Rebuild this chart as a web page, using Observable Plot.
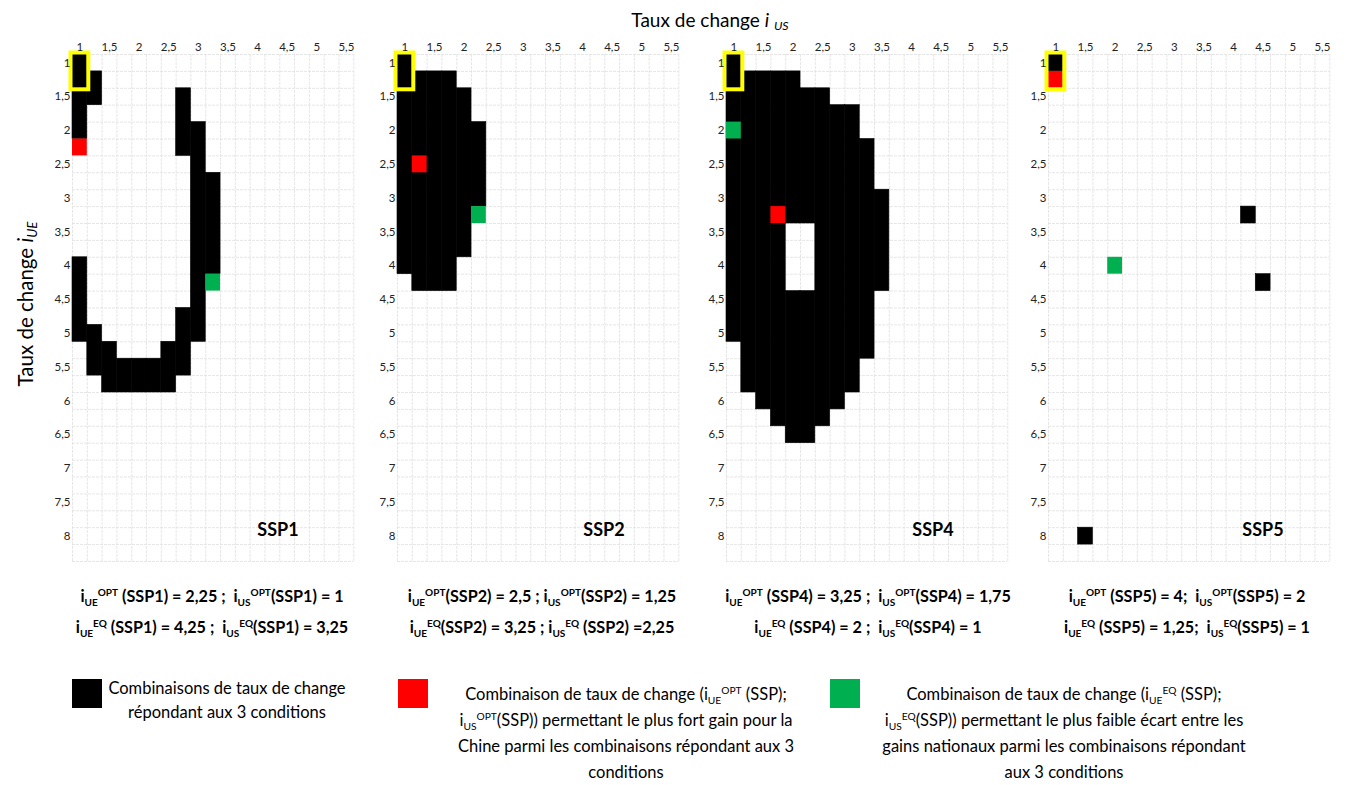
<!DOCTYPE html>
<html><head><meta charset="utf-8">
<script src="https://cdn.jsdelivr.net/npm/d3@7"></script>
<script src="https://cdn.jsdelivr.net/npm/@observablehq/plot@0.6"></script>
<style>
body{margin:0;background:#fff;font-family:Lato,"Open Sans",sans-serif;color:#000;}
#root{position:relative;width:1365px;height:785px;overflow:hidden;background:#fff;}
.abs{position:absolute;white-space:nowrap;}
.ptitle{font-weight:bold;font-size:18px;}
.formula{font-weight:bold;font-size:16.2px;text-align:center;line-height:31px;width:380px;}
sub,sup{line-height:0;}
.formula sub,.legtxt sub{font-size:0.62em;vertical-align:-0.35em;}
.formula sup,.legtxt sup{font-size:0.62em;vertical-align:0.55em;}
.legtxt{font-size:16.5px;text-align:center;line-height:26px;}
.sq{position:absolute;width:30px;height:29px;}
</style></head><body><div id="root"></div>
<script>
// categories (cell centres) of the two exchange-rate axes
const xValues = [1,1.25,1.5,1.75,2,2.25,2.5,2.75,3,3.25,3.5,3.75,4,4.25,4.5,4.75,5,5.25,5.5];
const yValues = [1,1.25,1.5,1.75,2,2.25,2.5,2.75,3,3.25,3.5,3.75,4,4.25,4.5,4.75,5,5.25,5.5,5.75,6,6.25,6.5,6.75,7,7.25,7.5,7.75,8,8.25];
const xTicks = [1,1.5,2,2.5,3,3.5,4,4.5,5,5.5];
const yTicks = [1,1.5,2,2.5,3,3.5,4,4.5,5,5.5,6,6.5,7,7.5,8];
const panelNames = ["SSP1","SSP2","SSP4","SSP5"];

// black combinations: [i_US, i_UE from, i_UE to]
const ssp1Runs = [
  [1,1,2],[1,4,5],
  [1.25,1.25,1.5],[1.25,5,5.5],
  [1.5,5.25,5.75],[1.75,5.5,5.75],[2,5.5,5.75],[2.25,5.5,5.75],[2.5,5.25,5.75],
  [2.75,1.5,2.25],[2.75,4.75,5.5],
  [3,2,5],
  [3.25,2.75,4]
];
const ssp2Runs = [
  [1,1,4],[1.25,1.25,4.25],[1.5,1.25,4.25],[1.75,1.25,4.25],[2,1.5,3.75],[2.25,2,3]
];
const ssp4Runs = [
  [1,1,5],[1.25,1.25,5.75],[1.5,1.25,6],[1.75,1.25,6.25],
  [2,1.25,3.25],[2,4.5,6.5],[2.25,1.5,3.25],[2.25,4.5,6.5],
  [2.5,1.5,6.25],[2.75,1.75,6],[3,1.75,5.75],[3.25,2.25,5.25],[3.5,3,4.25]
];
const ssp5Runs = [
  [1,1,1],[4.25,3.25,3.25],[4.5,4.25,4.25],[1.5,8,8]
];
const runsByPanel = [ssp1Runs, ssp2Runs, ssp4Runs, ssp5Runs];
// red (OPT) and green (EQ) cells: [i_US, i_UE]
const optCells = [[1,2.25],[1.25,2.5],[1.75,3.25],[1,1.25]];
const eqCells  = [[3.25,4.25],[2.25,3.25],[1,2],[2,4]];
// yellow framed block: [i_US, i_UE from, i_UE to]
const highlight = [1,1,1.25];

const formulaLines = [
  ["i<sub>UE</sub><sup>OPT</sup> (SSP1) = 2,25 ;&nbsp; i<sub>US</sub><sup>OPT</sup>(SSP1) = 1",
   "i<sub>UE</sub><sup>EQ</sup> (SSP1) = 4,25 ;&nbsp; i<sub>US</sub><sup>EQ</sup>(SSP1) = 3,25"],
  ["i<sub>UE</sub><sup>OPT</sup>(SSP2) = 2,5 ; i<sub>US</sub><sup>OPT</sup>(SSP2) = 1,25",
   "i<sub>UE</sub><sup>EQ</sup>(SSP2) = 3,25 ; i<sub>US</sub><sup>EQ</sup> (SSP2) =2,25"],
  ["i<sub>UE</sub><sup>OPT</sup> (SSP4) = 3,25 ;&nbsp; i<sub>US</sub><sup>OPT</sup>(SSP4) = 1,75",
   "i<sub>UE</sub><sup>EQ</sup> (SSP4) = 2 ;&nbsp; i<sub>US</sub><sup>EQ</sup>(SSP4) = 1"],
  ["i<sub>UE</sub><sup>OPT</sup> (SSP5) = 4;&nbsp; i<sub>US</sub><sup>OPT</sup>(SSP5) = 2",
   "i<sub>UE</sub><sup>EQ</sup> (SSP5) = 1,25;&nbsp; i<sub>US</sub><sup>EQ</sup>(SSP5) = 1"]
];

const root = document.getElementById("root");
const half = 0.125;
const fmt = d => String(d).replace(".", ",");
const ML = 40, MR = 4, MT = 24, MB = 4;
const gridW = 281.3, gridH = 507;
const W = ML + gridW + MR, H = MT + gridH + MB;
const gridLefts = [71.7, 396.7, 725.7, 1047.7];
const gridTop = 54;
const xEdges = xValues.map(v => v - half).concat([xValues[xValues.length-1] + half]);
const yEdges = yValues.map(v => v - half).concat([yValues[yValues.length-1] + half]);

function add(html, cls, style){
  const d = document.createElement("div");
  d.className = "abs " + (cls||"");
  d.innerHTML = html;
  Object.assign(d.style, style);
  root.appendChild(d);
  return d;
}

panelNames.forEach((name, i) => {
  const runs = runsByPanel[i];
  const chart = Plot.plot({
    width: W, height: H,
    marginLeft: ML, marginRight: MR, marginTop: MT, marginBottom: MB,
    x: {domain: [xEdges[0], xEdges[xEdges.length-1]], axis: null},
    y: {domain: [yEdges[0], yEdges[yEdges.length-1]], reverse: true, axis: null},
    style: {fontFamily: "Lato, 'Open Sans', sans-serif", fontSize: "11.5px", color: "#222", background: "transparent", overflow: "visible"},
    marks: [
      Plot.ruleX(xEdges, {stroke: "#e0e0e0", strokeWidth: 0.8, strokeDasharray: "3,1"}),
      Plot.ruleY(yEdges, {stroke: "#e0e0e0", strokeWidth: 0.8, strokeDasharray: "3,1"}),
      Plot.rect(runs, {x1: d => d[0] - half, x2: d => d[0] + half, y1: d => d[1] - half, y2: d => d[2] + half, fill: "black", stroke: "black", strokeWidth: 0.6}),
      Plot.rect([optCells[i]], {x1: d => d[0] - half, x2: d => d[0] + half, y1: d => d[1] - half, y2: d => d[1] + half, fill: "#ff0000"}),
      Plot.rect([eqCells[i]], {x1: d => d[0] - half, x2: d => d[0] + half, y1: d => d[1] - half, y2: d => d[1] + half, fill: "#00b050"}),
      Plot.rect([highlight], {x1: d => d[0] - half, x2: d => d[0] + half, y1: d => d[1] - half, y2: d => d[2] + half, fill: "none", stroke: "#ffff00", strokeWidth: 4, inset: -1.5}),
      Plot.axisX(xTicks, {anchor: "top", tickSize: 0, tickPadding: 3, tickFormat: fmt, label: null, fill: "#222"}),
      Plot.axisY(yTicks, {anchor: "left", tickSize: 0, tickPadding: 2, tickFormat: fmt, label: null, fill: "#222"})
    ]
  });
  chart.style.position = "absolute";
  chart.style.left = (gridLefts[i] - ML) + "px";
  chart.style.top = (gridTop - MT) + "px";
  root.appendChild(chart);
});

// panel names
const nameCenters = [278, 604, 933, 1263];
panelNames.forEach((n, i) => {
  add(n, "ptitle", {top: "518px", left: (nameCenters[i] - 40) + "px", width: "80px", textAlign: "center"});
});

// formulas
const formulaCenters = [212, 542, 868, 1187];
formulaLines.forEach((ls, i) => {
  add(ls.join("<br>"), "formula", {left: (formulaCenters[i] - 190) + "px", top: "580px"});
});

// axis titles
add("Taux de change <i>i</i> <sub style='font-size:0.65em;font-style:italic;vertical-align:-0.3em'>US</sub>", "", {left: "710px", top: "19px", fontSize: "19px", transform: "translate(-50%,-50%)"});
add("Taux de change <i>i</i><sub style='font-size:0.65em;font-style:italic;vertical-align:-0.3em'>UE</sub>", "", {left: "25px", top: "304px", fontSize: "20.5px", transform: "translate(-50%,-50%) rotate(-90deg)"});

// legend
add("", "sq", {left: "72px", top: "679px", background: "#000"});
add("", "sq", {left: "398px", top: "679px", background: "#ff0000"});
add("", "sq", {left: "830px", top: "679px", background: "#00b050"});
add("Combinaisons de taux de change<br>répondant aux 3 conditions", "legtxt", {left: "67px", width: "320px", top: "676px", lineHeight: "24px"});
add("Combinaison de taux de change (i<sub>UE</sub><sup>OPT</sup> (SSP);<br>i<sub>US</sub><sup>OPT</sup>(SSP)) permettant le plus fort gain pour la<br>Chine parmi les combinaisons répondant aux 3<br>conditions", "legtxt", {left: "426px", width: "400px", top: "681px"});
add("Combinaison de taux de change (i<sub>UE</sub><sup>EQ</sup> (SSP);<br>i<sub>US</sub><sup>EQ</sup>(SSP)) permettant le plus faible écart entre les<br>gains nationaux parmi les combinaisons répondant<br>aux 3 conditions", "legtxt", {left: "864px", width: "400px", top: "681px"});
</script>
</body></html>
